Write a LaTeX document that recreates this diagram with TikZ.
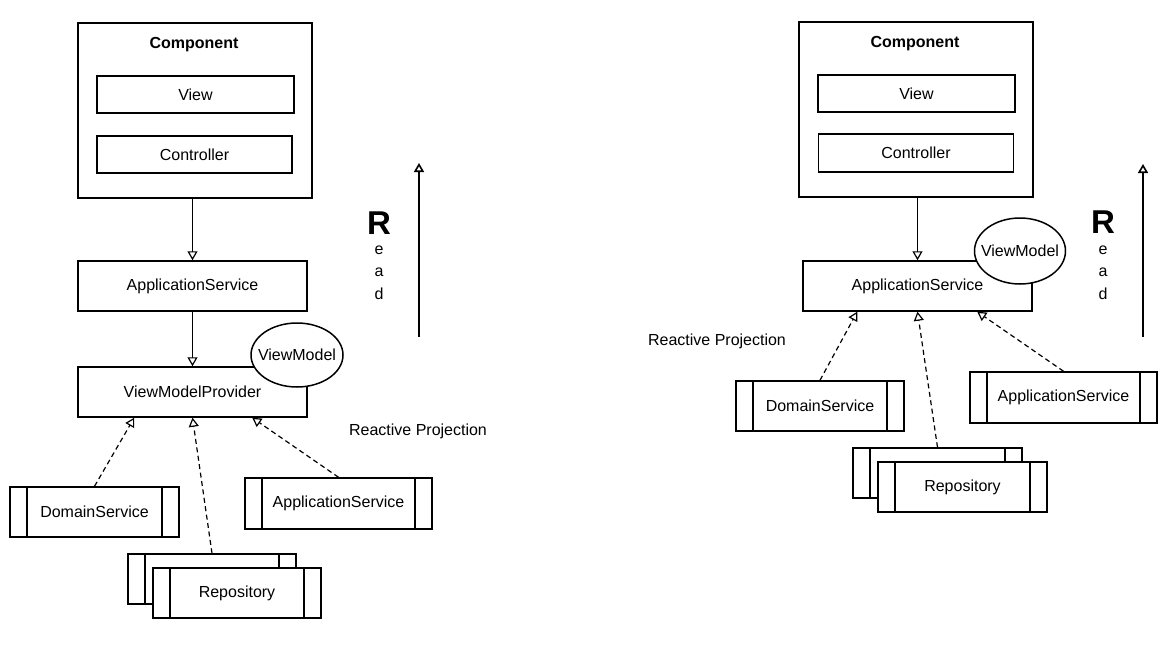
\documentclass[tikz,border=0pt]{standalone}
\usepackage{fontspec}
\setmainfont{Liberation Sans}
\usetikzlibrary{shapes.geometric,arrows.meta}
\tikzstyle{txt}=[font=\fontsize{16}{19}\selectfont, inner sep=0pt]
\tikzstyle{box}=[txt, rectangle, draw, line width=1.5pt, fill=white]
\tikzstyle{procbox}=[box, path picture={
	\draw[line width=1.5pt] ([xshift=17pt]path picture bounding box.north west) -- ([xshift=17pt]path picture bounding box.south west);
	\draw[line width=1.5pt] ([xshift=-17pt]path picture bounding box.north east) -- ([xshift=-17pt]path picture bounding box.south east);}]
\tikzstyle{bubble}=[ellipse, draw, line width=1.5pt, fill=white, inner sep=0pt]
\tikzstyle{title}=[txt, font=\fontsize{16}{19}\selectfont\bfseries]
\tikzstyle{bigR}=[inner sep=0pt, font=\fontsize{33}{33}\selectfont\bfseries]
\tikzstyle{flow}=[line width=1.2pt, -{Triangle[open,length=9pt,width=10pt]}]
\tikzstyle{proj}=[flow, dash pattern=on 5pt off 3.5pt]
\tikzstyle{readline}=[flow, line width=1.6pt]

\begin{document}
\begin{tikzpicture}[x=1pt, y=1pt, yscale=-1]
	\useasboundingbox (0,0) rectangle (1171,648);

	% left: component with view and controller
	\node[box, minimum width=234pt, minimum height=175pt] (comp) at (195,110.5) {};
	\node[title] (comptitle) at (194,45) {Component};
	\node[box, minimum width=197pt, minimum height=37pt] (view) at (195.5,94.5) {View};
	\node[box, minimum width=195pt, minimum height=37pt] (ctrl) at (194.5,154.5) {Controller};
	\node[box, minimum width=229pt, minimum height=50pt] (appsvc) at (192.5,286) {ApplicationService};
	\node[box, minimum width=229pt, minimum height=50pt] (vmp) at (192.5,392) {ViewModelProvider};
	\node[bubble, minimum width=92pt, minimum height=64pt, label={[txt]center:ViewModel}] (vm) at (297,355) {};
	\node[txt] (reactive) at (418,431) {Reactive Projection};

	% left: sources
	\node[procbox, minimum width=169pt, minimum height=50pt] (domsvc) at (94.5,512) {DomainService};
	\node[procbox, minimum width=187pt, minimum height=51pt] (appsvcsrc) at (338.5,503.5) {ApplicationService};
	\node[procbox, minimum width=168pt, minimum height=50pt] (repoback) at (212,579) {};
	\node[procbox, minimum width=168pt, minimum height=50pt] (repofront) at (237,593) {Repository};

	% left: read
	\node[bigR] (readR) at (379,223) {R};
	\node[txt] (reade) at (379,250) {e};
	\node[txt] (reada) at (379,272) {a};
	\node[txt] (readd) at (379,294) {d};
	\coordinate (readlo) at (419,337);
	\coordinate (readhi) at (419,163);

	\draw[flow] (appsvc.north |- comp.south) -- (appsvc.north);
	\draw[flow] (appsvc.south) -- (vmp.north);
	\draw[proj] (domsvc.north) -- ([xshift=57pt]vmp.south west);
	\draw[proj] (repoback.north) -- (vmp.south);
	\draw[proj] (appsvcsrc.north) -- ([xshift=175pt]vmp.south west);
	\draw[readline] (readlo) -- (readhi);

	% right: component with view and controller
	\node[box, minimum width=234pt, minimum height=175pt] (comp2) at (916,109.5) {};
	\node[title] (comptitle2) at (915,44) {Component};
	\node[box, minimum width=197pt, minimum height=37pt] (view2) at (916.5,93.5) {View};
	\node[box, minimum width=195pt, minimum height=38pt] (ctrl2) at (916,153) {Controller};
	\node[box, minimum width=229pt, minimum height=50pt] (appsvc2) at (917.5,286) {ApplicationService};
	\node[bubble, minimum width=91pt, minimum height=66pt, label={[txt]center:ViewModel}] (vm2) at (1020,251) {};
	\node[txt] (reactive2) at (717,341) {Reactive Projection};

	% right: sources
	\node[procbox, minimum width=168pt, minimum height=50pt] (domsvc2) at (820,406) {DomainService};
	\node[procbox, minimum width=187pt, minimum height=51pt] (appsvcsrc2) at (1063.5,397.5) {ApplicationService};
	\node[procbox, minimum width=169pt, minimum height=50pt] (repoback2) at (937.5,473) {};
	\node[procbox, minimum width=169pt, minimum height=50pt] (repofront2) at (962.5,487) {Repository};

	% right: read
	\node[bigR] (readR2) at (1103,222) {R};
	\node[txt] (reade2) at (1103,250) {e};
	\node[txt] (reada2) at (1103,272) {a};
	\node[txt] (readd2) at (1103,294) {d};
	\coordinate (readlo2) at (1143,337);
	\coordinate (readhi2) at (1143,164);

	\draw[flow] (appsvc2.north |- comp2.south) -- (appsvc2.north);
	\draw[proj] (domsvc2.north) -- ([xshift=55pt]appsvc2.south west);
	\draw[proj] (repoback2.north) -- (appsvc2.south);
	\draw[proj] (appsvcsrc2.north) -- ([xshift=175pt]appsvc2.south west);
	\draw[readline] (readlo2) -- (readhi2);
\end{tikzpicture}
\end{document}
